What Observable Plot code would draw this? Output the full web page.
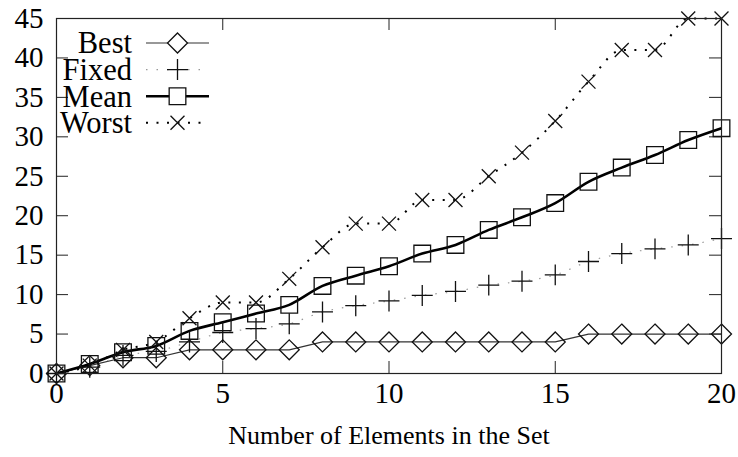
<!DOCTYPE html>
<html><head><meta charset="utf-8">
<script src="https://cdn.jsdelivr.net/npm/d3@7"></script>
<script src="https://cdn.jsdelivr.net/npm/@observablehq/plot@0.6"></script>
<style>
html,body{margin:0;padding:0;background:#fff;}
#chart{position:relative;width:738px;height:457px;}
#legend{position:absolute;left:0;top:0;pointer-events:none;}
</style></head><body><div id="chart"></div>
<script>
// ---- data ----
const setSizes = [0,1,2,3,4,5,6,7,8,9,10,11,12,13,14,15,16,17,18,19,20];
const seriesNames = ["Best","Fixed","Mean","Worst"];
const best  = [0,1,2,2,3,3,3,3,4,4,4,4,4,4,4,4,5,5,5,5,5];
const fixed = [0,0.8,2.3,2.8,4.0,5.2,5.7,6.3,7.8,8.6,9.2,9.9,10.4,11.2,11.7,12.5,14.2,15.2,15.8,16.3,17.1];
const mean  = [0,1.2,2.7,3.5,5.4,6.5,7.6,8.7,11.1,12.4,13.6,15.2,16.3,18.2,19.8,21.6,24.3,26.1,27.7,29.6,31.1];
const worst = [0,1,3,4,7,9,9,12,16,19,19,22,22,25,28,32,37,41,41,45,45];
const xTicks = [0,5,10,15,20];
const yTicks = [0,5,10,15,20,25,30,35,40,45];
const xLabel = "Number of Elements in the Set";

// ---- styles ----
const FONT = '"Liberation Serif","Times New Roman",serif';
const styles = {
  Best:  {symbol:"diamond2", r:9.0, stroke:"#333", strokeWidth:1.2, dash:null, curve:"linear"},
  Fixed: {symbol:"plus", r:6.8, stroke:"#999", strokeWidth:1.2, dash:"1.5,9", curve:"monotone-x"},
  Mean:  {symbol:"square", r:9.4, stroke:"#000", strokeWidth:2.6, dash:null, curve:"monotone-x"},
  Worst: {symbol:"times", r:6.4, stroke:"#000", strokeWidth:2, dash:"2,8.5", curve:"monotone-x"}
};
const valuesBy = {Best:best, Fixed:fixed, Mean:mean, Worst:worst};
const rows = seriesNames.map(name => setSizes.map((x,i)=>({series:name, x, y:valuesBy[name][i]})));

const W = 738, H = 457, mL = 56, mR = 17, mT = 18, mB = 84;
const pw = W - mL - mR, ph = H - mT - mB, tk = 12;

const marks = [];
rows.forEach((data, k) => {
  const s = styles[seriesNames[k]];
  marks.push(Plot.line(data, {x:"x", y:"y", stroke:s.stroke, strokeWidth:s.strokeWidth,
    strokeDasharray:s.dash, curve:s.curve, strokeLinecap:"butt"}));
});
rows.forEach((data, k) => {
  const s = styles[seriesNames[k]];
  marks.push(Plot.dot(data, {x:"x", y:"y", symbol:s.symbol, r:s.r, stroke:"#111", strokeWidth:1.3, fill:"none"}));
});

const chart = Plot.plot({
  width: W, height: H,
  marginLeft: mL, marginRight: mR, marginTop: mT, marginBottom: mB,
  style: {fontFamily: FONT, fontSize: "29px", color:"#000", background:"#fff"},
  x: {domain:[0,20]},
  y: {domain:[0,45]},
  marks: [
    Plot.axisX(xTicks, {tickSize:0, tickPadding:9, label:null, fill:"#000"}),
    Plot.axisY(yTicks, {tickSize:0, tickPadding:13, label:null, fill:"#000"}),
    Plot.text([xLabel], {text:d=>d, frameAnchor:"bottom", dy:70, fontSize:26, fill:"#000"}),
    Plot.tickX(xTicks, {x:d=>d, insetTop: ph - tk, stroke:"#222"}),
    Plot.tickX(xTicks, {x:d=>d, insetBottom: ph - tk, stroke:"#222"}),
    Plot.tickY(yTicks, {y:d=>d, insetRight: pw - tk, stroke:"#222"}),
    Plot.tickY(yTicks, {y:d=>d, insetLeft: pw - tk, stroke:"#222"}),
    ...marks,
    Plot.frame({stroke:"#222", strokeWidth:1.2})
  ]
});
const holder = document.getElementById("chart");
holder.appendChild(chart);

// ---- legend (inside plot, top-left) ----
const symMap = {diamond2:d3.symbolDiamond2, plus:d3.symbolPlus, square:d3.symbolSquare, times:d3.symbolTimes};
const lg = d3.select(holder).append("svg").attr("id","legend").attr("width",W).attr("height",H)
  .style("font-family",FONT).style("font-size","30.5px");
seriesNames.forEach((name,i) => {
  const s = styles[name];
  const cy = 43 + i*26.6;
  lg.append("text").attr("x",132).attr("y",cy).attr("dy","0.34em").attr("text-anchor","end").attr("fill","#000").text(name);
  lg.append("line").attr("x1",146).attr("x2",209).attr("y1",cy).attr("y2",cy)
    .attr("stroke",s.stroke).attr("stroke-width",s.strokeWidth).attr("stroke-dasharray",s.dash);
  lg.append("path").attr("transform",`translate(177.5,${cy})`)
    .attr("d", d3.symbol(symMap[s.symbol], Math.PI*s.r*s.r)())
    .attr("fill","#fff").attr("stroke","#111").attr("stroke-width",1.3);
});
</script></body></html>
